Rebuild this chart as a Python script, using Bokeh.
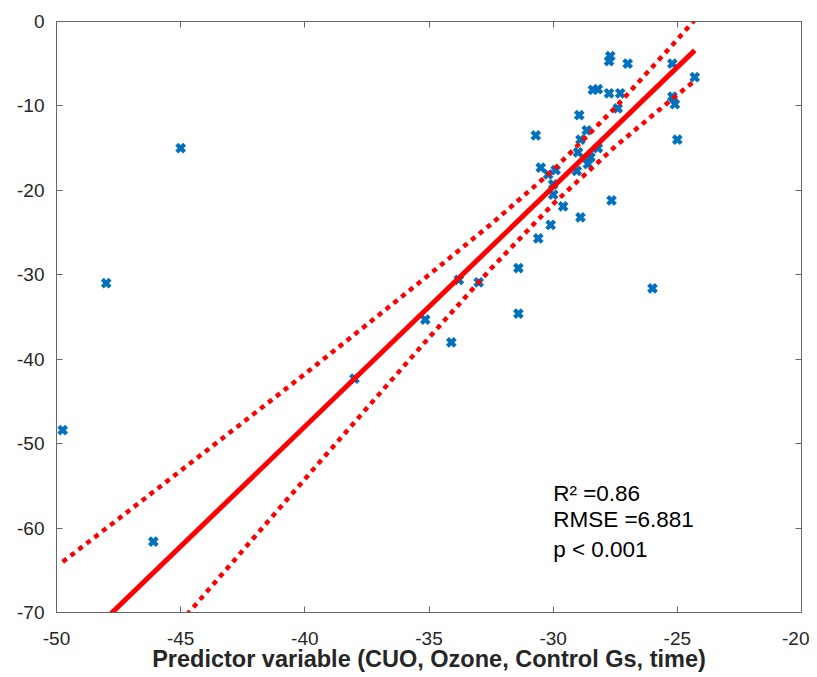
from bokeh.plotting import figure
from bokeh.models import LinearAxis, ColumnDataSource
from bokeh.embed import file_html
from bokeh.resources import INLINE
from bokeh.core.properties import value

# observed points (predictor, response)
obs_x = [-49.75, -48.0, -45.0, -46.1, -38.0, -35.15, -34.1, -33.8, -33.0, -31.4,
         -31.4, -30.7, -30.6, -30.5, -30.2, -30.1, -30.0, -30.0, -29.9, -29.6,
         -29.05, -29.0, -28.95, -28.9, -28.9, -28.65, -28.6, -28.5, -28.2, -28.4,
         -28.2, -27.75, -27.7, -27.75, -27.65, -27.4, -27.3, -27.0, -26.0, -25.2,
         -25.2, -25.1, -25.0, -24.3]
obs_y = [-48.4, -31.0, -15.0, -61.6, -42.3, -35.3, -38.0, -30.6, -30.9, -29.2,
         -34.6, -13.5, -25.7, -17.3, -18.1, -24.1, -19.3, -20.5, -17.6, -21.9,
         -17.7, -15.5, -11.1, -23.2, -14.0, -12.9, -16.9, -16.1, -15.0, -8.1,
         -8.0, -8.5, -4.1, -4.7, -21.2, -10.3, -8.5, -5.0, -31.6, -5.0,
         -8.9, -9.8, -14.0, -6.6]

# regression line and confidence band
fit_x = [-49.75, -24.3]
fit_y = [-75.65, -3.42]
band_x = [-49.75, -47.5, -45.0, -42.5, -40.0, -37.5, -35.0, -32.5, -30.0, -27.5, -25.0, -24.3]
band_upper = [-64.0, -58.9, -53.2, -47.5, -41.75, -35.9, -30.0, -24.0, -17.6, -10.2, -2.14, 0.18]
band_lower = [-87.3, -79.6, -71.1, -62.66, -54.2, -45.78, -37.44, -29.26, -21.6, -14.8, -8.68, -7.02]

x_ticks = [-50, -45, -40, -35, -30, -25, -20]
y_ticks = [-70, -60, -50, -40, -30, -20, -10, 0]
stats_lines = ["R\u00b2 =0.86", "RMSE =6.881", "p < 0.001"]
stats_y = [-55.9, -59.0, -62.5]
stats_x = [-30.0, -30.0, -30.0]

FONT = "Liberation Sans"
AX = "#666666"
TXT = "#262626"

p = figure(width=809, height=677, x_range=(-50, -20), y_range=(-70, 0),
           output_backend="svg", toolbar_location=None,
           min_border_left=56, min_border_right=8, min_border_top=21, min_border_bottom=65)
p.background_fill_color = "white"
p.border_fill_color = "white"
p.outline_line_color = None
p.xgrid.visible = False
p.ygrid.visible = False

for ax in p.xaxis:
    ax.ticker = x_ticks
    ax.major_label_overrides = {t: str(t) for t in x_ticks}
    ax.axis_label = "Predictor variable (CUO, Ozone, Control Gs, time)"
    ax.axis_label_text_font = FONT
    ax.axis_label_text_font_style = "bold"
    ax.axis_label_text_font_size = "23.5px"
    ax.axis_label_text_color = TXT
    ax.axis_label_standoff = -2
    ax.major_label_text_font = FONT
    ax.major_label_text_font_size = "19px"
    ax.major_label_text_color = TXT
    ax.major_label_standoff = 19
for ax in p.yaxis:
    ax.ticker = y_ticks
    ax.major_label_overrides = {t: str(t) for t in y_ticks}
    ax.major_label_text_font = FONT
    ax.major_label_text_font_size = "19px"
    ax.major_label_text_color = TXT
    ax.major_label_standoff = 12

for ax in list(p.xaxis) + list(p.yaxis):
    ax.axis_line_color = AX
    ax.major_tick_line_color = AX
    ax.major_tick_in = 6
    ax.major_tick_out = 0
    ax.minor_tick_line_color = None

top = LinearAxis(ticker=x_ticks, major_label_text_font_size="0px",
                 major_tick_in=6, major_tick_out=0, minor_tick_line_color=None,
                 axis_line_color=AX, major_tick_line_color=AX, major_label_standoff=0)
right = LinearAxis(ticker=y_ticks, major_label_text_font_size="0px",
                   major_tick_in=6, major_tick_out=0, minor_tick_line_color=None,
                   axis_line_color=AX, major_tick_line_color=AX, major_label_standoff=0)
top.major_label_overrides = {t: "" for t in x_ticks}
right.major_label_overrides = {t: "" for t in y_ticks}
p.add_layout(top, "above")
p.add_layout(right, "right")

p.scatter(obs_x, obs_y, marker="x", size=11, line_width=4.2, line_color="#0072BD")
p.line(fit_x, fit_y, line_color="#FF0000", line_width=5)
p.line(band_x, band_upper, line_color="#FF0000", line_width=4.5, line_dash="5 5")
p.line(band_x, band_lower, line_color="#FF0000", line_width=4.5, line_dash="5 5")

src = ColumnDataSource(dict(x=stats_x, y=stats_y, t=stats_lines))
p.text(x="x", y="y", text="t", source=src, text_font=value(FONT), text_font_size="22.5px",
       text_color="#000000", text_baseline="middle", text_align="left")

open("out.html", "w").write(file_html(p, INLINE))
